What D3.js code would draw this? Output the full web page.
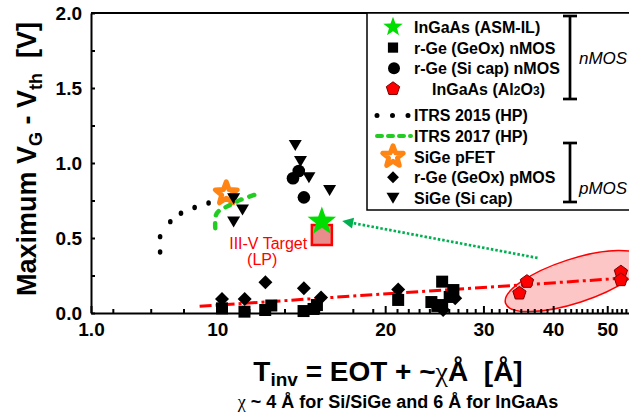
<!DOCTYPE html>
<meta charset="utf-8">
<style>
  body { margin: 0; background: #fff; }
  svg { display: block; font-family: "Liberation Sans", Arial, sans-serif; }
  .axis path, .axis line { stroke: #000; stroke-width: 2; }
  .axis text { font-size: 19px; font-weight: bold; fill: #000; font-family: "Liberation Sans", Arial, sans-serif; }
  .legend text { font-size: 16px; font-weight: bold; }
</style>
<body>
<script src="https://d3js.org/d3.v7.min.js"></script>
<script>
// ---- values ----
var xTickValues = [5.94, 10, 20, 30, 40, 50];
var xTickLabels = ["1.0", "10", "20", "30", "40", "50"];
var xMinorTicks = [6.5, 7.6, 8.7, 11.4, 13.2, 15.2, 17.5, 19, 21, 22, 23, 24, 25, 26, 27, 28, 29,
                   31, 32, 33, 34, 35, 36, 37, 38, 39, 41, 42, 43, 44, 45, 46, 47, 48, 49, 51, 52, 53, 54];
var yTickValues = [0, 0.5, 1, 1.5, 2];
var yMinorTicks = [0.25, 0.75, 1.25, 1.75];

// [Tinv, Vg-Vth]
var ingaasAsm = [[15.4, 0.61]];
var target = [[15.4, 0.52]];
var rGeGeOxN = [[10.2, 0.031], [11.19, 0.009], [12.19, 0.02], [12.5, 0.05], [14.28, 0.013], [15.09, 0.053],
                [14.88, 0.027], [21.1, 0.087], [25.3, 0.209], [24.2, 0.073], [25.3, 0.053], [26.1, 0.107],
                [26.5, 0.153], [24.8, 0.047]];
var rGeSiCapN = [[13.67, 0.898], [14.0, 0.947], [14.3, 0.771]];
var ingaasAl2o3 = [[35.9, 0.209], [34.8, 0.131], [52.9, 0.272], [52.9, 0.22]];
var itrs2015 = [[7.9, 0.407], [7.9, 0.509], [8.24, 0.609], [8.61, 0.665], [9.11, 0.703], [9.65, 0.733]];
var itrs2017 = [[9.92, 0.565], [9.95, 0.653], [10.12, 0.687], [10.46, 0.713], [10.99, 0.753], [11.94, 0.80]];
var sigePfet = [[10.38, 0.797]];
var rGeGeOxP = [[12.2, 0.205], [14.3, 0.165], [11.2, 0.093], [10.2, 0.093], [15.35, 0.103], [21.1, 0.157],
                [26.7, 0.098], [25.4, 0.02]];
var sigeSiCap = [[13.8, 1.12], [14.1, 1.013], [14.6, 0.905], [15.9, 0.82], [10.7, 0.765], [11.1, 0.69], [10.7, 0.61]];
var ingaasTrend = [[9.3, 0.045], [53.8, 0.233]];
var arrowFromTo = [[37.5, 0.367], [16.75, 0.613]];
var ellipseCenter = [43.6, 0.213];

var legendLabels = ["InGaAs (ASM-IL)", "r-Ge (GeOx) nMOS", "r-Ge (Si cap) nMOS", "InGaAs (Al2O3)",
                    "ITRS 2015 (HP)", "ITRS 2017 (HP)", "SiGe pFET", "r-Ge (GeOx) pMOS", "SiGe (Si cap)"];

var width = 629, height = 412;

var x = d3.scaleLog().domain([5.94, 54.7]).range([91, 629]);
var y = d3.scaleLinear().domain([0, 2]).range([313, 13]);

var svg = d3.select("body").append("svg")
    .attr("width", width)
    .attr("height", height);

// marker shapes
function starPath(R, r) {
  var p = [];
  for (var i = 0; i < 10; i++) {
    var a = -Math.PI / 2 + i * Math.PI / 5, rr = i % 2 ? r : R;
    p.push([rr * Math.cos(a), rr * Math.sin(a)]);
  }
  return "M" + p.join("L") + "Z";
}
function pentPath(R) {
  var p = [];
  for (var i = 0; i < 5; i++) {
    var a = -Math.PI / 2 + i * 2 * Math.PI / 5;
    p.push([R * Math.cos(a), R * Math.sin(a)]);
  }
  return "M" + p.join("L") + "Z";
}
var shapes = {
  square: "M-6,-6h12v12h-12Z",
  diamond: "M0,-7L7,0L0,7L-7,0Z",
  triDown: "M-6.5,-5L6.5,-5L0,6Z",
  pent: pentPath(7),
  greenStar: starPath(15, 6.2),
  orangeStar: starPath(11.5, 4.8)
};

function markers(data, d, fill, stroke, sw) {
  svg.append("g").selectAll("path")
    .data(data)
    .enter().append("path")
    .attr("d", d)
    .attr("transform", function (p) { return "translate(" + x(p[0]) + "," + y(p[1]) + ")"; })
    .attr("fill", fill)
    .attr("stroke", stroke || "none")
    .attr("stroke-width", sw || 0)
    .attr("stroke-linejoin", "round");
}

var line = d3.line().x(function (d) { return x(d[0]); }).y(function (d) { return y(d[1]); });

// pink ellipse round the InGaAs (Al2O3) points
svg.append("ellipse")
    .attr("cx", 0).attr("cy", 0).attr("rx", 72).attr("ry", 22)
    .attr("transform", "translate(" + x(ellipseCenter[0]) + "," + y(ellipseCenter[1]) + ") rotate(-18)")
    .attr("fill", "#fcc6c6")
    .attr("stroke", "#ff0000")
    .attr("stroke-width", 1.5);

// axes
svg.append("g").attr("class", "axis")
    .attr("transform", "translate(0,313)")
    .call(d3.axisBottom(x).tickValues(xMinorTicks).tickSize(-4).tickSizeOuter(0).tickFormat(""))
    .select(".domain").remove();
svg.append("g").attr("class", "axis")
    .attr("transform", "translate(0,313)")
    .call(d3.axisBottom(x).tickValues(xTickValues).tickSize(-7).tickSizeOuter(0).tickPadding(10)
      .tickFormat(function (d, i) { return xTickLabels[i]; }));
svg.append("g").attr("class", "axis")
    .attr("transform", "translate(91,0)")
    .call(d3.axisLeft(y).tickValues(yMinorTicks).tickSize(-4).tickSizeOuter(0).tickFormat(""))
    .select(".domain").remove();
svg.append("g").attr("class", "axis")
    .attr("transform", "translate(91,0)")
    .call(d3.axisLeft(y).tickValues(yTickValues).tickSize(-4).tickSizeOuter(0).tickPadding(9)
      .tickFormat(d3.format(".1f")));
svg.append("line")
    .attr("x1", 91).attr("x2", 629).attr("y1", y(2)).attr("y2", y(2))
    .attr("stroke", "#000").attr("stroke-width", 2);

// red dash-dot trend
svg.append("path")
    .datum(ingaasTrend)
    .attr("d", line)
    .attr("fill", "none")
    .attr("stroke", "#ff0000")
    .attr("stroke-width", 3)
    .attr("stroke-dasharray", "12,4,3,4");

markers(sigePfet, shapes.orangeStar, "#fff", "#ff8412", 5);
markers(rGeGeOxN, shapes.square, "#000");
markers(rGeGeOxP, shapes.diamond, "#000");
markers(sigeSiCap, shapes.triDown, "#000");
svg.append("g").selectAll("circle")
    .data(rGeSiCapN)
    .enter().append("circle")
    .attr("cx", function (d) { return x(d[0]); })
    .attr("cy", function (d) { return y(d[1]); })
    .attr("r", 6.3)
    .attr("fill", "#000");

// ITRS 2015 dots
svg.append("g").selectAll("ellipse")
    .data(itrs2015)
    .enter().append("ellipse")
    .attr("cx", function (d) { return x(d[0]); })
    .attr("cy", function (d) { return y(d[1]); })
    .attr("rx", 2.3).attr("ry", 2.7)
    .attr("fill", "#000");

// ITRS 2017 dashes
svg.append("path")
    .datum(itrs2017)
    .attr("d", line.curve(d3.curveCatmullRom))
    .attr("fill", "none")
    .attr("stroke", "#22cc22")
    .attr("stroke-width", 4.5)
    .attr("stroke-linecap", "round")
    .attr("stroke-dasharray", "5,8");
line.curve(d3.curveLinear);

// III-V target
svg.append("rect")
    .attr("x", x(target[0][0]) - 10).attr("y", y(target[0][1]) - 10)
    .attr("width", 20).attr("height", 20)
    .attr("fill", "#e88c8c")
    .attr("stroke", "#ff0000")
    .attr("stroke-width", 2.5);
markers(ingaasAsm, shapes.greenStar, "#00dd00");

svg.append("text")
    .attr("x", x(12.34)).attr("y", y(0.427))
    .attr("text-anchor", "middle")
    .style("font-size", "16px").style("fill", "#ff0000")
    .text("III-V Target");
svg.append("text")
    .attr("x", x(12.04)).attr("y", y(0.32))
    .attr("text-anchor", "middle")
    .style("font-size", "16px").style("fill", "#ff0000")
    .text("(LP)");

// green dotted arrow
var a0 = [x(arrowFromTo[0][0]), y(arrowFromTo[0][1])],
    a1 = [x(arrowFromTo[1][0]), y(arrowFromTo[1][1])];
var ang = Math.atan2(a1[1] - a0[1], a1[0] - a0[0]);
svg.append("line")
    .attr("x1", a0[0]).attr("y1", a0[1])
    .attr("x2", a1[0] - 9 * Math.cos(ang)).attr("y2", a1[1] - 9 * Math.sin(ang))
    .attr("stroke", "#00b050")
    .attr("stroke-width", 2.7)
    .attr("stroke-dasharray", "2.5,2");
svg.append("path")
    .attr("d", "M0,0L-11,-5.5L-11,5.5Z")
    .attr("transform", "translate(" + a1[0] + "," + a1[1] + ") rotate(" + (ang * 180 / Math.PI) + ")")
    .attr("fill", "#00b050");

markers(ingaasAl2o3, shapes.pent, "#ff0000", "#7a0000", 1);

// legend box
svg.append("rect")
    .attr("x", 367).attr("y", 13).attr("width", 300).attr("height", 197)
    .attr("fill", "#fff").attr("stroke", "#000").attr("stroke-width", 1.5);

var legend = svg.append("g").attr("class", "legend");
function rowY(i) { return 27 + i * 20.6 + (i >= 4 ? 6 : 0); }
var legendShapes = [
  {d: shapes.greenStar, fill: "#00dd00", s: 0.68},
  {d: shapes.square, fill: "#000", s: 0.85},
  {d: "circle"},
  {d: shapes.pent, fill: "#ff0000", stroke: "#7a0000", s: 1},
  {line: "dots"},
  {line: "dash"},
  {d: shapes.orangeStar, fill: "#fff", stroke: "#ff8412", sw: 5, s: 0.95},
  {d: shapes.diamond, fill: "#000", s: 0.85},
  {d: shapes.triDown, fill: "#000", s: 1}
];
legendShapes.forEach(function (m, i) {
  var yy = rowY(i);
  if (m.line === "dots") {
    legend.append("line").attr("x1", 377).attr("x2", 410).attr("y1", yy).attr("y2", yy)
      .attr("stroke", "#000").attr("stroke-width", 5).attr("stroke-linecap", "round")
      .attr("stroke-dasharray", "0,15.5");
  } else if (m.line === "dash") {
    legend.append("line").attr("x1", 377).attr("x2", 411).attr("y1", yy).attr("y2", yy)
      .attr("stroke", "#22cc22").attr("stroke-width", 4).attr("stroke-linecap", "round")
      .attr("stroke-dasharray", "5,6");
  } else if (m.d === "circle") {
    legend.append("circle").attr("cx", 394).attr("cy", yy).attr("r", 6).attr("fill", "#000");
  } else {
    legend.append("path").attr("d", m.d)
      .attr("transform", "translate(393," + yy + ") scale(" + m.s + ")")
      .attr("fill", m.fill).attr("stroke", m.stroke || "none").attr("stroke-width", m.sw || 1)
      .attr("stroke-linejoin", "round");
  }
  var t = legend.append("text")
      .attr("x", i === 3 ? 432 : 414)
      .attr("y", yy + 6);
  if (i === 3) {
    t.append("tspan").text("InGaAs (Al");
    t.append("tspan").style("font-size", "12px").text("2");
    t.append("tspan").text("O");
    t.append("tspan").style("font-size", "12px").text("3");
    t.append("tspan").text(")");
  } else {
    t.text(legendLabels[i]);
  }
});

// brackets
function bracket(y0, y1, label, ly) {
  var g = svg.append("g").attr("stroke", "#000").attr("stroke-width", 2.7);
  g.append("line").attr("x1", 570).attr("x2", 570).attr("y1", y0).attr("y2", y1);
  g.append("line").attr("x1", 563).attr("x2", 577).attr("y1", y0).attr("y2", y0);
  g.append("line").attr("x1", 563).attr("x2", 577).attr("y1", y1).attr("y2", y1);
  svg.append("text").attr("x", 579).attr("y", ly)
    .style("font-size", "17px").style("font-style", "italic")
    .text(label);
}
bracket(16, 99, "nMOS", 64);
bracket(143, 202, "pMOS", 194);

// axis titles
var yl = svg.append("text")
    .attr("transform", "translate(36,159) rotate(-90)")
    .attr("text-anchor", "middle")
    .style("font-size", "27px").style("font-weight", "bold").style("white-space", "pre");
yl.append("tspan").text("Maximum V");
yl.append("tspan").attr("dy", 6).style("font-size", "18px").text("G");
yl.append("tspan").attr("dy", -6).text(" - V");
yl.append("tspan").attr("dy", 6).style("font-size", "18px").text("th");
yl.append("tspan").attr("dy", -6).text("  [V]");

var xl = svg.append("text")
    .attr("x", 388).attr("y", 381)
    .attr("text-anchor", "middle")
    .style("font-size", "28px").style("font-weight", "bold").style("white-space", "pre");
xl.append("tspan").text("T");
xl.append("tspan").attr("dy", 5).style("font-size", "19px").text("inv");
xl.append("tspan").attr("dy", -5).text(" = EOT + ~");
xl.append("tspan").style("font-family", "Liberation Serif").style("font-weight", "normal").text("χ");
xl.append("tspan").text("Å  [Å]");

var note = svg.append("text")
    .attr("x", 398).attr("y", 408)
    .attr("text-anchor", "middle")
    .style("font-size", "18px").style("font-weight", "bold").style("white-space", "pre");
note.append("tspan").style("font-family", "Liberation Serif").style("font-weight", "normal").text("χ");
note.append("tspan").text(" ~ 4 Å for Si/SiGe and 6 Å for InGaAs");
</script>
</body>
</html>
